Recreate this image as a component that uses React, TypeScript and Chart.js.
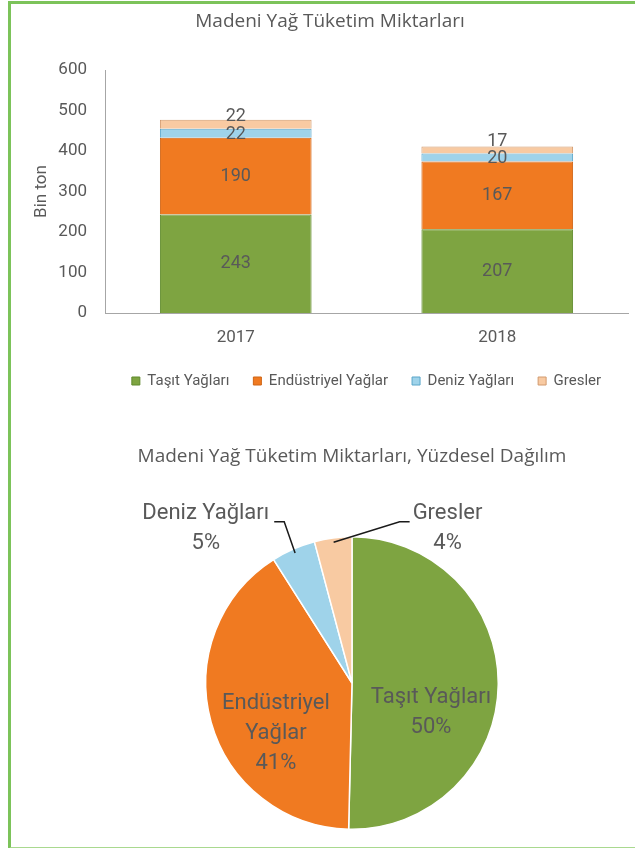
import React, { useEffect, useRef } from 'react';
import { Chart, registerables } from 'chart.js';

Chart.register(...registerables);

// ---------- data ----------
const YEARS = ['2017', '2018'];
const SERIES_NAMES = ['Taşıt Yağları', 'Endüstriyel Yağlar', 'Deniz Yağları', 'Gresler'];
const TASIT = [243, 207];
const ENDUSTRIYEL = [190, 167];
const DENIZ = [22, 20];
const GRESLER = [22, 17];
const Y_MIN = 0;
const Y_MAX = 600;
const Y_STEP = 100;
const BAR_TITLE = 'Madeni Yağ Tüketim Miktarları';
const Y_TITLE = 'Bin ton';
const PIE_TITLE = 'Madeni Yağ Tüketim Miktarları, Yüzdesel Dağılım';
const PIE_YEAR_INDEX = 1; // 2018
const PIE_LABEL_LINES = [['Taşıt Yağları'], ['Endüstriyel', 'Yağlar'], ['Deniz Yağları'], ['Gresler']];

// ---------- style ----------
const TEXT = '#595959';
const AXIS = '#a6a6a6';
const NARROW = "Roboto, 'Liberation Sans', sans-serif";
const SANS = "'Open Sans', 'Noto Sans', sans-serif";
const FILL = ['#7ea441', '#f07a21', '#9fd3ea', '#f8caa2'];
const EDGE = ['#5f8a2c', '#cf6415', '#5aa6c9', '#d29a6e'];
const BAR_LABEL_DY = [0, 0, 1.5, -8];
const PIE_LABEL_LAYOUT = [
  { mode: 'inside' },
  { mode: 'inside' },
  { mode: 'outside', ax: -1.0, ay: -1.054, side: 'left' },
  { mode: 'outside', ax: 0.653, ay: -1.054, side: 'right' },
];

const barValueLabels = {
  id: 'barValueLabels',
  afterDatasetsDraw(chart: any) {
    const ctx = chart.ctx;
    ctx.save();
    ctx.fillStyle = TEXT;
    ctx.font = `18px ${NARROW}`;
    ctx.textAlign = 'center';
    ctx.textBaseline = 'middle';
    chart.data.datasets.forEach((ds: any, di: number) => {
      const meta = chart.getDatasetMeta(di);
      meta.data.forEach((el: any, i: number) => {
        const p = el.getProps(['x', 'y', 'base'], true);
        const cy = (p.y + p.base) / 2 + BAR_LABEL_DY[di];
        ctx.fillText(String(ds.data[i]), p.x, cy);
      });
    });
    ctx.restore();
  },
};

const pieLabels = {
  id: 'pieLabels',
  afterDatasetsDraw(chart: any) {
    const ctx = chart.ctx;
    const ds = chart.data.datasets[0];
    const total = ds.data.reduce((a: number, b: number) => a + b, 0);
    const meta = chart.getDatasetMeta(0);
    const lh = 30;
    ctx.save();
    ctx.fillStyle = TEXT;
    ctx.font = `22px ${NARROW}`;
    ctx.textAlign = 'center';
    ctx.textBaseline = 'middle';
    meta.data.forEach((arc: any, i: number) => {
      const p = arc.getProps(['x', 'y', 'startAngle', 'endAngle', 'outerRadius'], true);
      const mid = (p.startAngle + p.endAngle) / 2;
      const r = p.outerRadius;
      const pct = Math.round((ds.data[i] / total) * 100) + '%';
      const lines = [...PIE_LABEL_LINES[i], pct];
      const lay: any = PIE_LABEL_LAYOUT[i];
      let cx: number, cy: number;
      if (lay.mode === 'inside') {
        cx = p.x + Math.cos(mid) * r * 0.54;
        cy = p.y + Math.sin(mid) * r * 0.54 + 29;
      } else {
        cx = p.x + lay.ax * r;
        cy = p.y + lay.ay * r;
      }
      const top = cy - ((lines.length - 1) * lh) / 2;
      lines.forEach((t, k) => ctx.fillText(t, cx, top + k * lh));
      if (lay.mode === 'outside') {
        const w = ctx.measureText(lines[0]).width;
        const ly = cy - 7;
        let sx: number, bx: number;
        if (lay.side === 'left') {
          sx = cx + w / 2 + 5;
          bx = sx + 10;
        } else {
          sx = cx - w / 2 - 3;
          bx = sx - 10;
        }
        const ex = p.x + Math.cos(mid) * r * 0.97;
        const ey = p.y + Math.sin(mid) * r * 0.97;
        ctx.save();
        ctx.strokeStyle = '#1a1a1a';
        ctx.lineWidth = 1.5;
        ctx.beginPath();
        ctx.moveTo(sx, ly);
        ctx.lineTo(bx, ly);
        ctx.lineTo(ex, ey);
        ctx.stroke();
        ctx.restore();
      }
    });
    ctx.restore();
  },
};

function BarChart() {
  const ref = useRef<HTMLCanvasElement>(null);
  useEffect(() => {
    const series = [TASIT, ENDUSTRIYEL, DENIZ, GRESLER];
    const chart = new Chart(ref.current as HTMLCanvasElement, {
      type: 'bar',
      data: {
        labels: YEARS,
        datasets: series.map((d, i) => ({
          label: SERIES_NAMES[i],
          data: d,
          backgroundColor: FILL[i],
          borderColor: EDGE[i],
          borderWidth: 1,
          barPercentage: 0.58,
          categoryPercentage: 1,
        })),
      },
      options: {
        responsive: false,
        animation: false,
        layout: { padding: { left: 32, right: 7, top: 0, bottom: 11.5 } },
        scales: {
          x: {
            stacked: true,
            grid: { display: false, drawTicks: false },
            border: { display: true, color: AXIS, width: 1 },
            ticks: { color: TEXT, font: { family: NARROW, size: 17 }, padding: 14.8 },
            afterFit: (s: any) => { s.height = 36.5; },
          },
          y: {
            stacked: true,
            min: Y_MIN,
            max: Y_MAX,
            grid: { display: false, drawTicks: false },
            border: { display: true, color: AXIS, width: 1 },
            ticks: { stepSize: Y_STEP, color: TEXT, font: { family: NARROW, size: 17 }, padding: 18 },
            title: {
              display: true,
              text: Y_TITLE,
              color: TEXT,
              font: { family: NARROW, size: 17 },
              padding: { top: 0, bottom: 5 },
            },
            afterFit: (s: any) => { s.width = 73; },
          },
        },
        plugins: {
          title: {
            display: true,
            text: BAR_TITLE,
            color: TEXT,
            font: { family: SANS, size: 19, weight: 'normal' },
            padding: { top: 10.6, bottom: 36.6 },
          },
          legend: {
            position: 'bottom',
            fullSize: false,
            labels: {
              boxWidth: 8,
              boxHeight: 8,
              padding: 24,
              color: TEXT,
              font: { family: NARROW, size: 15 },
            },
          },
          tooltip: { enabled: false },
        },
      },
      plugins: [barValueLabels],
    } as any);
    return () => chart.destroy();
  }, []);
  return (
    <canvas
      ref={ref}
      width={635}
      height={410}
      style={{ position: 'absolute', left: 0, top: 0, width: 635, height: 410 }}
    />
  );
}

function PieChart() {
  const ref = useRef<HTMLCanvasElement>(null);
  useEffect(() => {
    const all = [TASIT, ENDUSTRIYEL, DENIZ, GRESLER];
    const values = all.map((s) => s[PIE_YEAR_INDEX]);
    const chart = new Chart(ref.current as HTMLCanvasElement, {
      type: 'pie',
      data: {
        labels: SERIES_NAMES,
        datasets: [
          {
            data: values,
            backgroundColor: FILL,
            borderColor: '#ffffff',
            borderWidth: 1.5,
          },
        ],
      },
      options: {
        responsive: false,
        animation: false,
        layout: { padding: { left: 0, right: 0, top: 0, bottom: 18 } },
        plugins: {
          title: {
            display: true,
            text: PIE_TITLE,
            color: TEXT,
            font: { family: SANS, size: 19, weight: 'normal' },
            padding: { top: 25.6, bottom: 67.6 },
          },
          legend: { display: false },
          tooltip: { enabled: false },
        },
      },
      plugins: [pieLabels],
    } as any);
    return () => chart.destroy();
  }, []);
  return (
    <canvas
      ref={ref}
      width={600}
      height={428}
      style={{ position: 'absolute', left: 52, top: 420, width: 600, height: 428 }}
    />
  );
}

export default function App() {
  return (
    <div
      style={{
        position: 'fixed',
        left: 0,
        top: 0,
        width: 635,
        height: 848,
        overflow: 'hidden',
        background: '#ffffff',
      }}
    >
      <div
        style={{
          position: 'absolute',
          left: 8,
          top: 1,
          width: 700,
          height: 843,
          borderLeft: '3px solid #7cc35a',
          borderTop: '3px solid #7cc35a',
          borderBottom: '2px solid #a9d98f',
        }}
      />
      <BarChart />
      <PieChart />
    </div>
  );
}
